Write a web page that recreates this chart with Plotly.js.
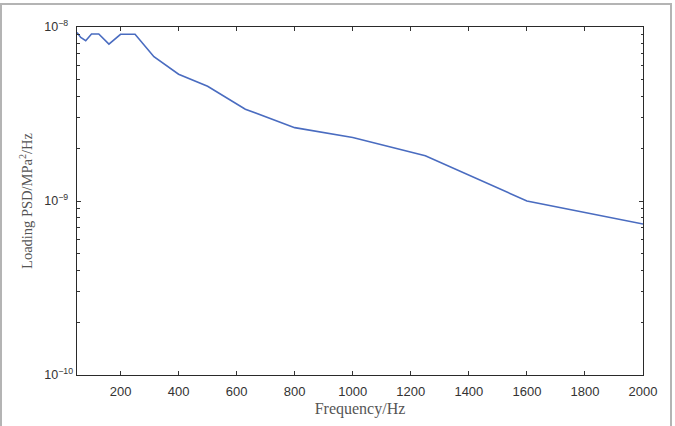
<!DOCTYPE html>
<html>
<head>
<meta charset="utf-8">
<script src="https://cdn.plot.ly/plotly-3.0.1.min.js"></script>
<style>
  html, body { margin: 0; padding: 0; background: #fff; }
  #wrap { position: relative; width: 675px; height: 426px; }
  #chart { position: absolute; left: 0; top: 0; width: 675px; height: 426px; }
  #border { position: absolute; left: 0; top: 3px; width: 672px; height: 426px; border: 2px solid #b4b4b4; box-sizing: border-box; pointer-events: none; }
</style>
</head>
<body>
<div id="wrap">
  <div id="chart"></div>
  <div id="border"></div>
</div>
<script>
// Frequency (Hz), 1/3-octave centres
const frequency = [50, 63, 80, 100, 125, 160, 200, 250, 315, 400, 500, 630, 800, 1000, 1250, 1600, 2000];
// Loading PSD (MPa^2/Hz)
const psd = [9.3e-9, 8.7e-9, 8.34e-9, 9.12e-9, 9.12e-9, 7.98e-9, 9.08e-9, 9.08e-9, 6.75e-9, 5.35e-9, 4.56e-9, 3.37e-9, 2.64e-9, 2.32e-9, 1.82e-9, 1.0e-9, 7.38e-10];

const xTicks = [200, 400, 600, 800, 1000, 1200, 1400, 1600, 1800, 2000];
const yTickVals = [1e-10, 1e-9, 1e-8];
const yTickText = [
  '10<sup>−10</sup>',
  '10<sup>−9<span style="color:rgba(0,0,0,0)">0</span></sup>',
  '10<sup>−8<span style="color:rgba(0,0,0,0)">0</span></sup>'
];

const yMinor = [];
for (let e = -10; e < -8; e++) {
  for (let d = 2; d <= 9; d++) yMinor.push(d * Math.pow(10, e));
}

const trace = {
  x: frequency,
  y: psd,
  type: 'scatter',
  mode: 'lines',
  line: { color: '#4a6cc0', width: 1.6 },
  hoverinfo: 'skip'
};

const axisCommon = {
  showline: true,
  linecolor: '#2a2a2a',
  linewidth: 1.4,
  mirror: 'ticks',
  ticks: 'inside',
  ticklen: 4,
  tickcolor: '#333',
  tickwidth: 1,
  showgrid: false,
  zeroline: false
};

const layout = {
  width: 675,
  height: 426,
  margin: { l: 77, r: 32, t: 27, b: 51 },
  paper_bgcolor: '#fff',
  plot_bgcolor: '#fff',
  showlegend: false,
  xaxis: Object.assign({}, axisCommon, {
    range: [50, 2000],
    tickmode: 'array',
    tickvals: xTicks,
    ticktext: xTicks.map(String),
    ticklabelstandoff: 4,
    tickfont: { family: 'Liberation Sans, Arial, sans-serif', size: 13, color: '#333' },
    title: { text: 'Frequency/Hz', font: { family: 'Liberation Serif, Times New Roman, serif', size: 16, color: '#555' }, standoff: 4 }
  }),
  yaxis: Object.assign({}, axisCommon, {
    type: 'log',
    range: [-10, -8],
    tickmode: 'array',
    tickvals: yTickVals,
    ticktext: yTickText,
    tickfont: { family: 'Liberation Sans, Arial, sans-serif', size: 12.5, color: '#333' },
    minor: { tickmode: 'array', tickvals: yMinor, ticks: 'inside', ticklen: 2.5, tickcolor: '#333', showgrid: false },
    title: { text: 'Loading PSD/MPa<sup>2</sup>/Hz', font: { family: 'Liberation Serif, Times New Roman, serif', size: 14.5, color: '#555' }, standoff: 8 }
  })
};

Plotly.newPlot('chart', [trace], layout, { displayModeBar: false, staticPlot: true });
</script>
</body>
</html>
